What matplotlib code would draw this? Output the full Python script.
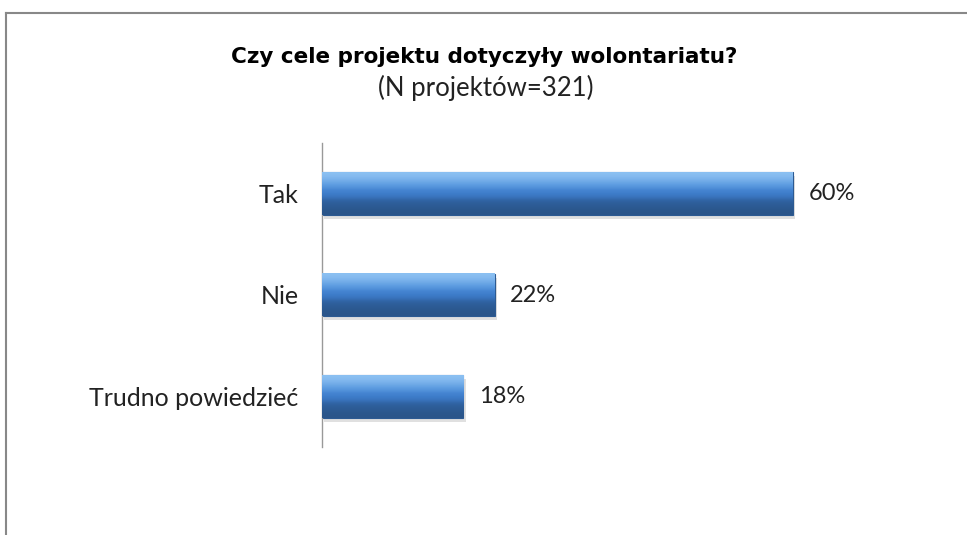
import numpy as np
import matplotlib.pyplot as plt
from matplotlib.lines import Line2D

categories = ["Tak", "Nie", "Trudno powiedzieć"]
values = [60, 22, 18]
value_labels = ["60%", "22%", "18%"]

title = "Czy cele projektu dotyczyły wolontariatu?"
subtitle = "(N projektów=321)"

plt.rcParams["font.family"] = ["Lato", "DejaVu Sans"]

fig = plt.figure(figsize=(9.67, 5.35), dpi=100)
ax = fig.add_axes([322 / 967, 88 / 535, (950 - 322) / 967, 304 / 535])

y = np.arange(len(categories))
h = 0.42

# shadow
ax.barh(y + 0.04, values, height=h, left=0.3, color="#cccccc", alpha=0.6, zorder=1)
bars = ax.barh(y, values, height=h, color="#3d7cc9", edgecolor="#2c5a92", linewidth=0.8, zorder=2)

# vertical gradient over each bar
grad = np.array([0.0, 0.1, 0.2, 0.5, 0.8, 0.92, 1.0]).reshape(-1, 1)
cmap = plt.matplotlib.colors.LinearSegmentedColormap.from_list(
    "bar", ["#8cc0f2", "#5c9be0", "#4585d2", "#3e7dca", "#3973bd", "#2f619f", "#2a558a"])
for b in bars:
    x0, y0, w, hh = b.get_x(), b.get_y(), b.get_width(), b.get_height()
    ax.imshow(grad, cmap=cmap, aspect="auto", interpolation="bicubic",
              extent=(x0, x0 + w, y0 + hh, y0), zorder=3)

for b, lab in zip(bars, value_labels):
    ax.annotate(lab, (b.get_width(), b.get_y() + b.get_height() / 2),
                xytext=(11, 0), textcoords="offset points", va="center", ha="left",
                fontsize=17, color="#222222")

ax.set_xlim(0, 80)
ax.set_ylim(2.5, -0.5)
ax.set_yticks(y)
ax.set_yticklabels(categories, fontsize=18, color="#222222")
ax.tick_params(axis="y", length=0, pad=17)
ax.set_xticks([])
for s in ["top", "right", "bottom"]:
    ax.spines[s].set_visible(False)
ax.spines["left"].set_color("#999999")
ax.spines["left"].set_linewidth(1)

fig.text(484 / 967, 1 - 57 / 535, title, ha="center", va="center",
         fontsize=15.5, fontweight="bold", color="#000000", family="DejaVu Sans")
fig.text(486 / 967, 1 - 88 / 535, subtitle, ha="center", va="center",
         fontsize=18.5, color="#222222")

# outer frame (top and left)
fig.add_artist(Line2D([6 / 967, 1.0], [1 - 13 / 535, 1 - 13 / 535], color="#888888", lw=1.5))
fig.add_artist(Line2D([6 / 967, 6 / 967], [0, 1 - 13 / 535], color="#888888", lw=1.5))

fig.savefig("out.png", dpi=100)
